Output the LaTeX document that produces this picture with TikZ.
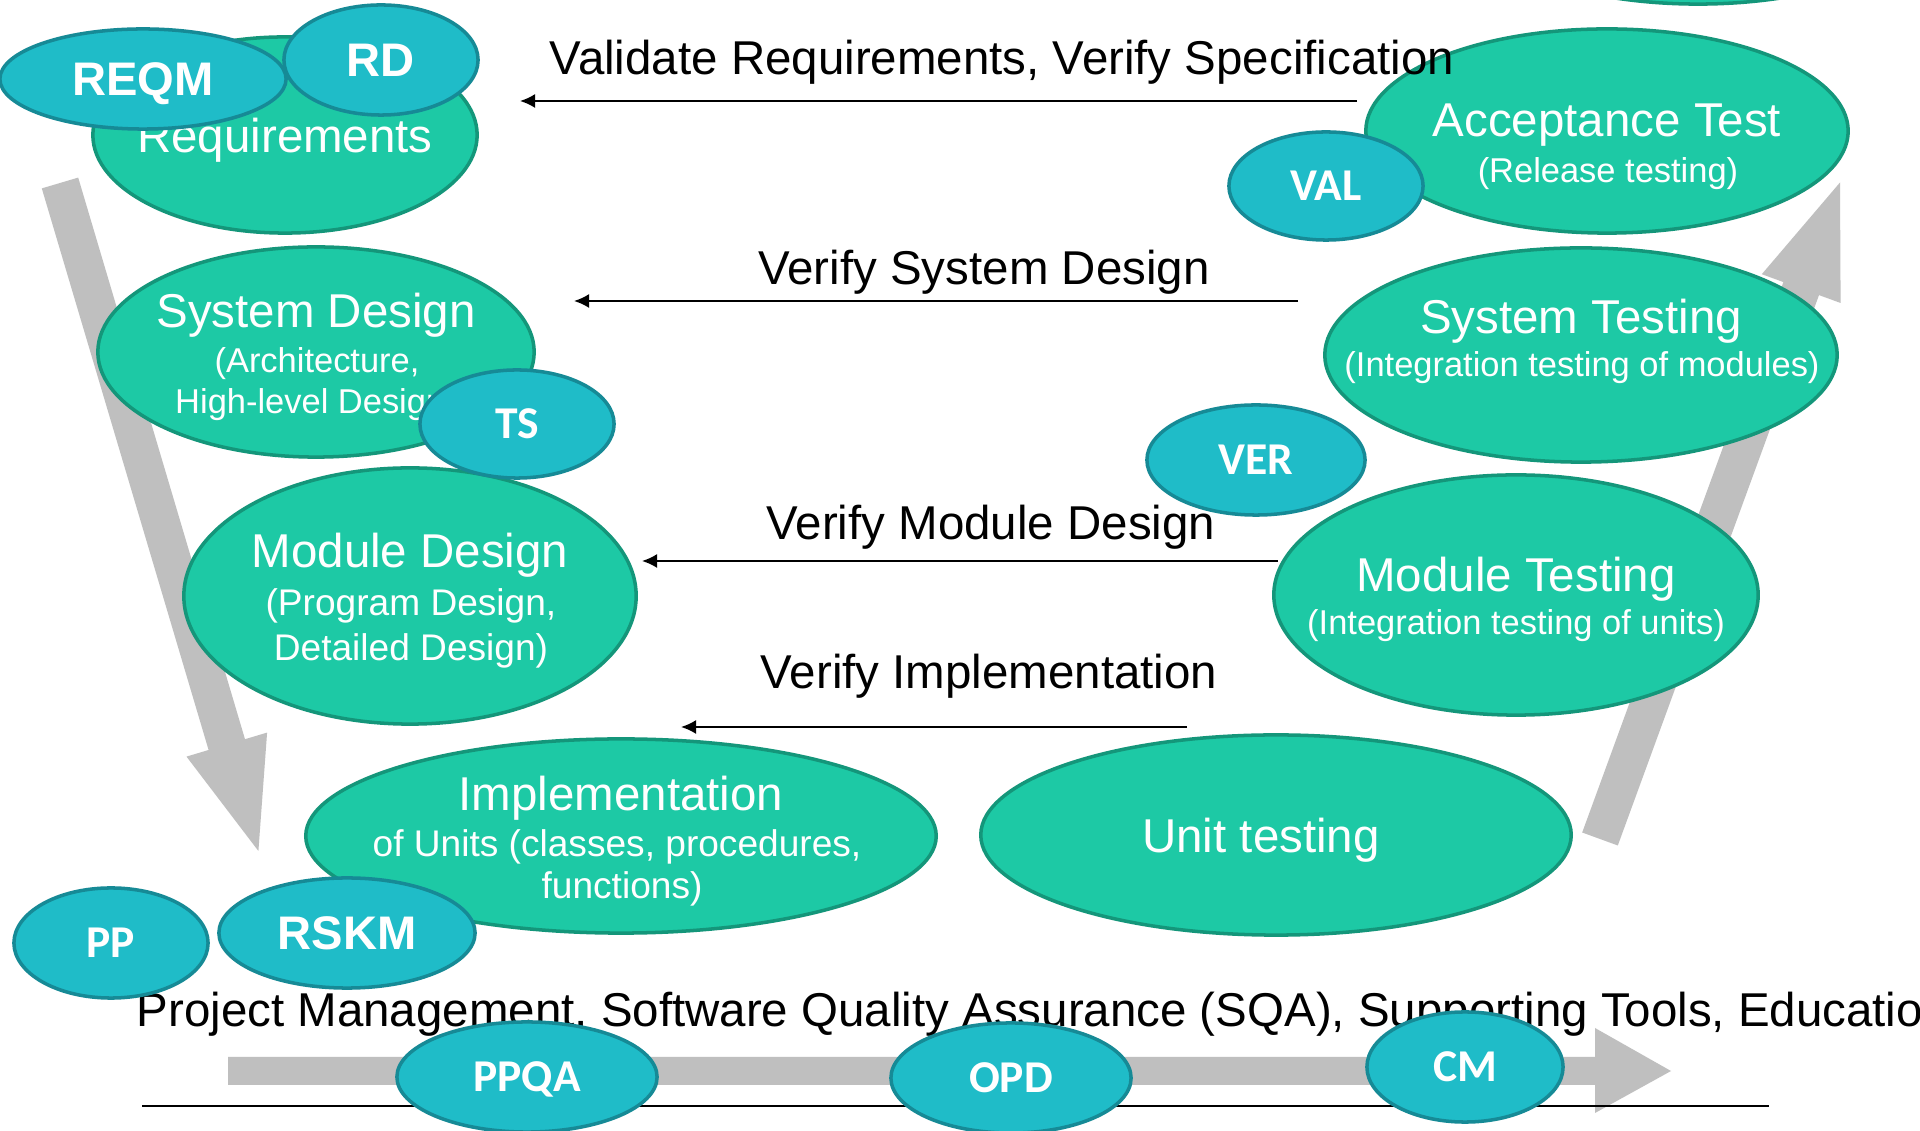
\documentclass[tikz,border=0pt]{standalone}
\usepackage{fontspec}
\setmainfont{Liberation Sans}
\newfontfamily\calibfont{Carlito}
\usetikzlibrary{shapes.geometric,arrows.meta}

\definecolor{vgreen}{RGB}{29,201,165}
\definecolor{vgreenEdge}{RGB}{20,150,122}
\definecolor{vcyan}{RGB}{31,188,200}
\definecolor{vcyanEdge}{RGB}{22,138,150}
\definecolor{vgrey}{RGB}{191,191,191}

\newcommand{\fsTitle}{\fontsize{13.5pt}{16pt}\selectfont}
\newcommand{\fsSmall}{\fontsize{9.8pt}{12pt}\selectfont}
\newcommand{\fsMid}{\fontsize{10.55pt}{12.5pt}\selectfont}
\newcommand{\fsTagA}{\fontsize{13.4pt}{16pt}\selectfont\bfseries}
\newcommand{\fsTagB}{\calibfont\fontsize{12.95pt}{15pt}\selectfont\bfseries}

\tikzset{
  phase/.style 2 args={ellipse, draw=vgreenEdge, fill=vgreen, line width=1pt,
    inner sep=0pt, minimum width=#1*0.02cm, minimum height=#2*0.02cm},
  tag/.style 2 args={ellipse, draw=vcyanEdge, fill=vcyan, line width=1pt,
    inner sep=0pt, minimum width=#1*0.02cm, minimum height=#2*0.02cm,
    text=white},
  tagA/.style={font=\fsTagA, text height=9.6pt, text depth=0pt},
  tagB/.style={font=\fsTagB, text height=8.3pt, text depth=0pt},
  ptitle/.style={anchor=base, inner sep=0pt, text=white, font=\fsTitle},
  psmall/.style={anchor=base, inner sep=0pt, text=white, font=\fsSmall},
  pmid/.style={anchor=base, inner sep=0pt, text=white, font=\fsMid},
  flowlabel/.style={anchor=base, inner sep=0pt, text=black, font=\fsTitle},
  flow/.style={-{Latex[length=0.15cm,width=0.14cm]}, line width=0.02cm, black},
  bigarrow/.style={fill=vgrey, draw=none}
}

\begin{document}
\begin{tikzpicture}[x=0.01cm, y=-0.01cm]
\useasboundingbox (0,0) rectangle (1920,1131);
\clip (0,0) rectangle (1920,1131);
\fill[white] (0,0) rectangle (1920,1131);

% broad grey arrows: down the left leg, up the right leg, along the bottom
\fill[bigarrow] (78.2,177.6) -- (245,739.2) -- (267.1,732.6) -- (258.4,851)
  -- (186.5,756.6) -- (208.6,750) -- (41.8,188.4) -- cycle;
\fill[bigarrow] (1582.2,832.5) -- (1783.4,282.1) -- (1761.8,274.2) -- (1840,182.5)
  -- (1840.6,303) -- (1819,295.1) -- (1617.8,845.5) -- cycle;
\fill[bigarrow] (228,1057) -- (1595,1057) -- (1595,1028) -- (1671,1071)
  -- (1595,1113) -- (1595,1085) -- (228,1085) -- cycle;

% base line and the supporting-activities caption
\coordinate (baseL) at (142,1106);
\coordinate (baseR) at (1769,1106);
\draw[line width=0.02cm, black] (baseL) -- (baseR);
\node[anchor=base west, inner sep=0pt, font=\fsTitle] (support) at (136,1027)
  {Project Management, Software Quality Assurance (SQA), Supporting Tools, Education};

% development and test phases
\node[phase={240}{100}] (upper) at (1698,-96) {};
\node[phase={192}{98}]  (req)  at (285,135) {};
\node[phase={218}{105}] (sysd) at (316,352) {};
\node[phase={226}{128}] (modd) at (410,596) {};
\node[phase={315}{97}]  (impl) at (621,836) {};
\node[phase={295}{100}] (unit) at (1276,835) {};
\node[phase={242}{120}] (modt) at (1516,595) {};
\node[phase={256}{107}] (syst) at (1581,355) {};
\node[phase={241}{102}] (acc)  at (1607,131) {};

\node[ptitle] (reqT) at (285,153) {Requirements};
\node[ptitle] (sysdT) at (316,328) {System Design};
\node[psmall] (sysdS1) at (317,373) {(Architecture,};
\node[psmall] (sysdS2) at (316,414) {High-level Design)};
\node[ptitle] (moddT) at (410,568) {Module Design};
\node[pmid] (moddS1) at (411,616) {(Program Design,};
\node[pmid] (moddS2) at (411,661) {Detailed Design)};
\node[ptitle] (implT) at (621,811) {Implementation};
\node[pmid] (implS1) at (617,857) {of Units (classes, procedures,};
\node[pmid] (implS2) at (622,899) {functions)};
\node[ptitle] (unitT) at (1261,853) {Unit testing};
\node[ptitle] (modtT) at (1516,592) {Module Testing};
\node[psmall] (modtS) at (1516,635) {(Integration testing of units)};
\node[ptitle] (systT) at (1581,334) {System Testing};
\node[psmall] (systS) at (1582,377) {(Integration testing of modules)};
\node[ptitle] (accT) at (1607,137) {Acceptance Test};
\node[psmall] (accS) at (1608,183) {(Release testing)};

% verification arrows from the test side back to the design side
\coordinate (v1s) at (1357,101);  \coordinate (v1e) at (520,101);
\coordinate (v2s) at (1298,301);  \coordinate (v2e) at (574,301);
\coordinate (v3s) at (1278,561);  \coordinate (v3e) at (642,561);
\coordinate (v4s) at (1187,727);  \coordinate (v4e) at (681,727);
\draw[flow] (v1s) -- (v1e);
\draw[flow] (v2s) -- (v2e);
\draw[flow] (v3s) -- (v3e);
\draw[flow] (v4s) -- (v4e);
\node[flowlabel] (v1l) at (1002,75) {Validate Requirements, Verify Specification};
\node[flowlabel] (v2l) at (984,285) {Verify System Design};
\node[flowlabel] (v3l) at (991,540) {Verify Module Design};
\node[flowlabel] (v4l) at (989,689) {Verify Implementation};

% process areas
\node[tag={143}{50}, tagA] (reqm) at (143,79) {REQM};
\node[tag={97}{55}, tagA] (rd) at (381,60) {RD};
\node[tag={97}{54}, tagB] (val) at (1326,186) {VAL};
\node[tag={97}{54}, tagB] (ts) at (517,424) {TS};
\node[tag={109}{55}, tagB] (ver) at (1256,460) {VER};
\node[tag={97}{55}, tagB] (pp) at (111,943) {PP};
\node[tag={128}{55}, tagA] (rskm) at (347,933) {RSKM};
\node[tag={130}{55}, tagB] (ppqa) at (527,1077) {PPQA};
\node[tag={120}{55}, tagB] (opd) at (1011,1078) {OPD};
\node[tag={98}{55}, tagB] (cm) at (1465,1067) {CM};
\end{tikzpicture}
\end{document}
